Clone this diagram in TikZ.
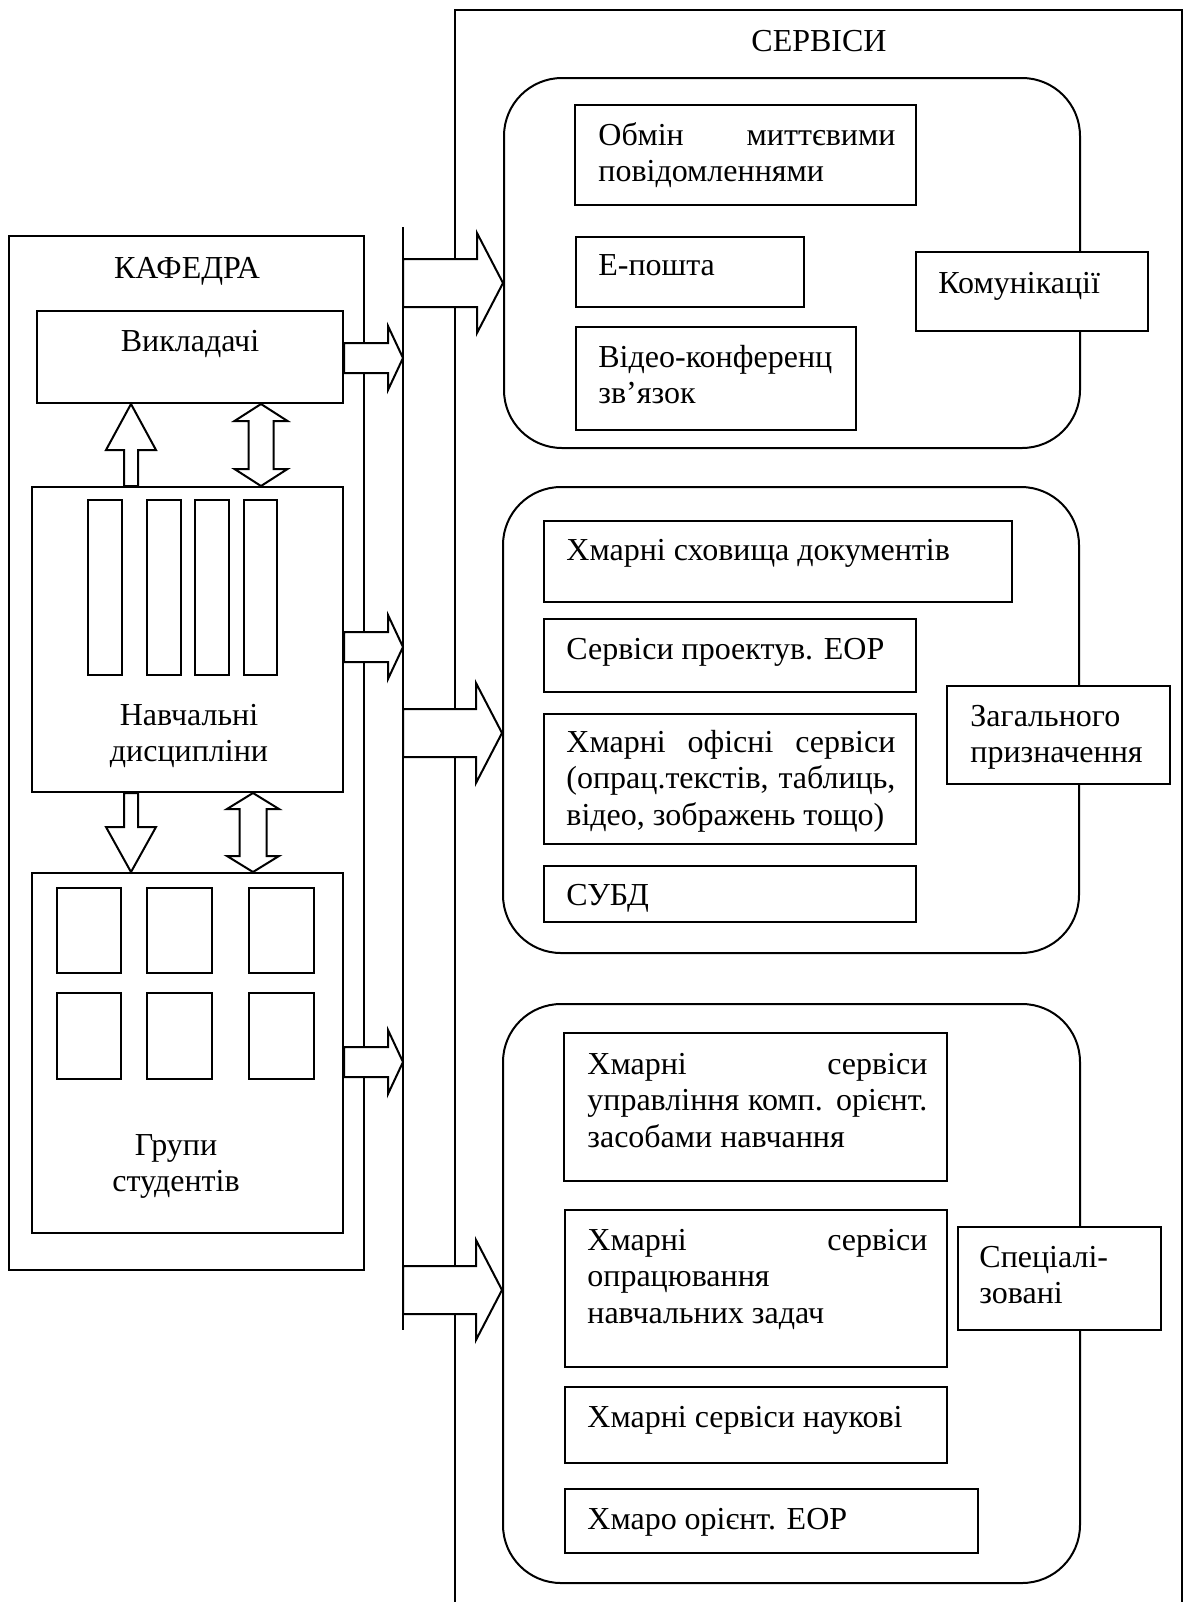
\documentclass[tikz,border=0pt]{standalone}
\usepackage{fontspec}
\setmainfont{Liberation Serif}
\usetikzlibrary{calc}
\usetikzlibrary{fit}
\tikzset{box/.style = {draw, line width=1pt, fill=white, inner sep=0pt},
         groupbox/.style = {box, rounded corners=29pt},
         arrowbody/.style = {draw, line width=1pt, fill=white},
         txt/.style = {anchor=base west, inner sep=0pt, font=\diagfont, align=left},
         jtxt/.style = {txt, text width=#1, align=justify},
         ctxt/.style = {anchor=base, inner sep=0pt, font=\diagfont, align=center, text width=#1}}
\newcommand\diagfont{\fontsize{16pt}{18.4pt}\selectfont}
\hyphenpenalty=10000
\exhyphenpenalty=10000
% #1 tail, #2 tip, #3 half shaft, #4 half head, #5 head length
\newcommand\fatarrow[5]{%
  \coordinate (fa1) at #1;
  \coordinate (fa2) at #2;
  \coordinate (fah) at ($(fa2)!#5!(fa1)$);
  \draw [arrowbody] ($(fa1)!#3!90:(fa2)$) -- ($(fah)!#3!90:(fa2)$) -- ($(fah)!#4!90:(fa2)$)
    -- (fa2) -- ($(fah)!#4!-90:(fa2)$) -- ($(fah)!#3!-90:(fa2)$) -- ($(fa1)!#3!-90:(fa2)$) -- cycle;}
% same, with a head at both ends
\newcommand\dblarrow[5]{%
  \coordinate (da1) at #1;
  \coordinate (da2) at #2;
  \coordinate (dha) at ($(da1)!#5!(da2)$);
  \coordinate (dhb) at ($(da2)!#5!(da1)$);
  \draw [arrowbody] (da1) -- ($(dha)!#4!90:(da2)$) -- ($(dha)!#3!90:(da2)$) -- ($(dhb)!#3!-90:(da1)$)
    -- ($(dhb)!#4!-90:(da1)$) -- (da2) -- ($(dhb)!#4!90:(da1)$) -- ($(dhb)!#3!90:(da1)$)
    -- ($(dha)!#3!-90:(da2)$) -- ($(dha)!#4!-90:(da2)$) -- cycle;}

\begin{document}
\begin{tikzpicture}[x=0.5pt, y=-0.5pt]
  \useasboundingbox (0,0) rectangle (1183,1602);

  % frames and bus
  \node [box, fill=none, fit={(9,236) (364,1270)}] (kaf) {};
  \draw [line width=1pt] (455,1602) -- (455,10) -- (1182,10) -- (1182,1602);
  \coordinate (busT) at (403,227);
  \coordinate (busB) at (403,1330);
  \draw [line width=1pt] (busT) -- (busB);

  % department
  \node [ctxt=150pt] (kafT) at (187,278) {КАФЕДРА};
  \node [box, fit={(37,311) (343,403)}] (vykl) {};
  \node [box, fit={(32,487) (343,792)}] (navch) {};
  \node [box, fit={(32,873) (343,1233)}] (grupy) {};
  \foreach \l/\r [count=\i] in {88/122, 147/181, 195/229, 244/277}
    \node [box, fit={(\l,500) (\r,675)}] (disc\i) {};
  \foreach \l/\r [count=\i] in {57/121, 147/212, 249/314}
    \foreach \t/\b [count=\j] in {888/973, 993/1079}
      \node [box, fit={(\l,\t) (\r,\b)}] (stud\i\j) {};
  \node [ctxt=150pt] (vyklT) at (190,351) {Викладачі};
  \node [ctxt=150pt] (navchT) at (189,725) {Навчальні\\дисципліни};
  \node [ctxt=150pt] (grupyT) at (176,1155) {Групи\\студентів};

  % services
  \node [ctxt=150pt] (servT) at (819,51) {СЕРВІСИ};
  \node [groupbox, fit={(504,78) (1080,448)}] (comm) {};
  \node [groupbox, fit={(503,487) (1079,953)}] (gen) {};
  \node [groupbox, fit={(503,1004) (1080,1583)}] (spec) {};

  \node [box, fit={(575,105) (916,205)}] (obmin) {};
  \node [jtxt=148.5pt] (obminT) at (598,145) {Обмін миттєвими\linebreak повідомленнями};
  \node [box, fit={(576,237) (804,307)}] (email) {};
  \node [txt] (emailT) at (598,275) {Е-пошта};
  \node [box, fit={(576,327) (856,430)}] (video) {};
  \node [txt, text width=130pt] (videoT) at (598,367) {Відео-конференц\\зв’язок};
  \node [box, fit={(916,252) (1148,331)}] (komun) {};
  \node [txt] (komunT) at (938,293) {Комунікації};

  \node [box, fit={(544,521) (1012,602)}] (store) {};
  \node [txt] (storeT) at (566,560) {Хмарні сховища документів};
  \node [box, fit={(544,619) (916,692)}] (design) {};
  \node [txt] (designT) at (566,659) {Сервіси проектув. ЕОР};
  \node [box, fit={(544,714) (916,844)}] (office) {};
  \node [jtxt=164.5pt] (officeT) at (566,752) {Хмарні офісні сервіси\linebreak (опрац.текстів, таблиць,\linebreak відео, зображень тощо)};
  \node [box, fit={(544,866) (916,922)}] (dbms) {};
  \node [txt] (dbmsT) at (566,905) {СУБД};
  \node [box, fit={(947,686) (1170,784)}] (zag) {};
  \node [txt, text width=100pt] (zagT) at (970,726) {Загального\\призначення};

  \node [box, fit={(564,1033) (947,1181)}] (lms) {};
  \node [jtxt=170pt] (lmsT) at (587,1074) {Хмарні сервіси\linebreak управління комп. орієнт.\linebreak засобами навчання};
  \node [box, fit={(565,1210) (947,1367)}] (tasks) {};
  \node [jtxt=170pt] (tasksT) at (587,1250) {Хмарні сервіси\linebreak опрацювання\\навчальних задач};
  \node [box, fit={(565,1387) (947,1463)}] (sci) {};
  \node [txt] (sciT) at (587,1427) {Хмарні сервіси наукові};
  \node [box, fit={(565,1489) (978,1553)}] (eor) {};
  \node [txt] (eorT) at (587,1529) {Хмаро орієнт. ЕОР};
  \node [box, fit={(958,1227) (1161,1330)}] (specl) {};
  \node [txt, text width=80pt] (speclT) at (979,1267) {Спеціалі-\\зовані};

  % block arrows
  \fatarrow{(navch.north -| 131,0)}{(vykl.south -| 131,0)}{3.5pt}{12.5pt}{23pt}
  \dblarrow{(vykl.south -| 261,0)}{(navch.north -| 261,0)}{6.25pt}{13.25pt}{8.5pt}
  \fatarrow{(navch.south -| 131,0)}{(grupy.north -| 131,0)}{3.5pt}{12.5pt}{22.5pt}
  \dblarrow{(navch.south -| 253,0)}{(grupy.north -| 253,0)}{6.75pt}{13pt}{8pt}
  \foreach \src/\y in {vykl/358, navch/647, grupy/1062}{
    \fatarrow{(\src.east |- 0,\y)}{(busT |- 0,\y)}{7.5pt}{16pt}{7.5pt}
  }
  \foreach \dst/\y in {comm/283, gen/733, spec/1290}{
    \fatarrow{(busT |- 0,\y)}{(\dst.west |- 0,\y)}{12pt}{25pt}{13pt}
  }
\end{tikzpicture}
\end{document}
